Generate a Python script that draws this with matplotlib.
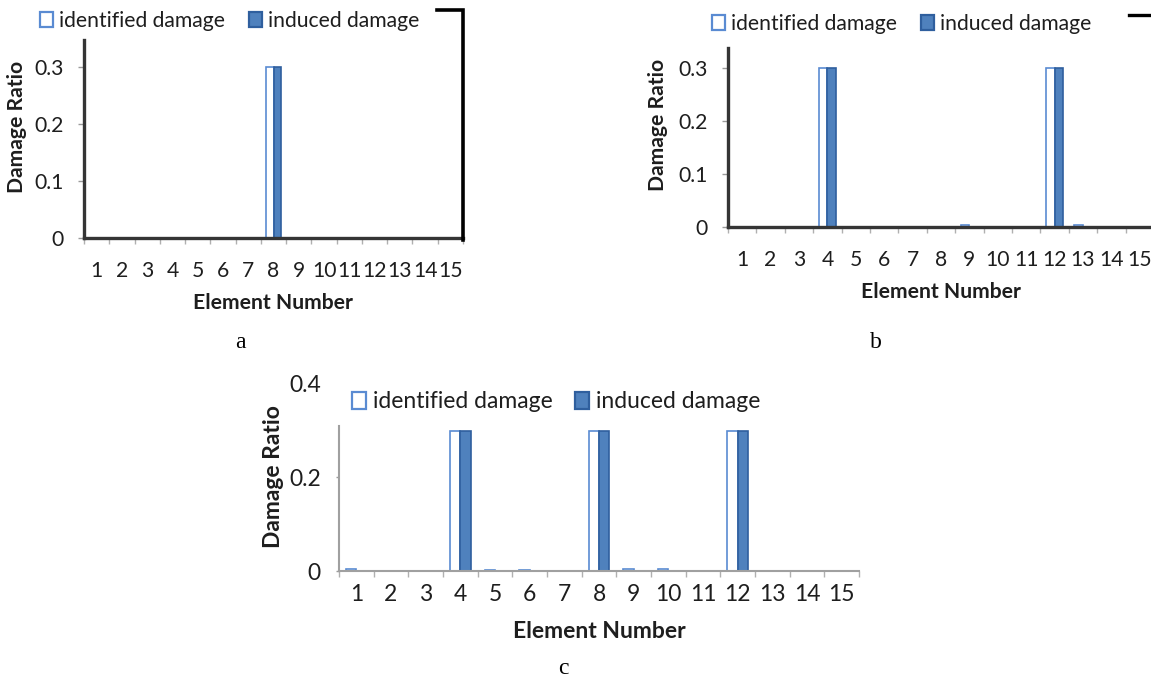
import matplotlib
matplotlib.use("Agg")
import matplotlib.pyplot as plt
from matplotlib.lines import Line2D
from matplotlib.patches import Patch
import numpy as np

plt.rcParams["font.family"] = ["Lato", "DejaVu Sans"]

W, H = 1151, 683
fig = plt.figure(figsize=(W / 100, H / 100), dpi=100)

# ---- data ----
elements = list(range(1, 16))
series_names = ["identified damage", "induced damage"]

identified_a = [0, 0, 0, 0, 0, 0, 0, 0.3, 0, 0, 0, 0, 0, 0, 0]
induced_a = [0, 0, 0, 0, 0, 0, 0, 0.3, 0, 0, 0, 0, 0, 0, 0]

identified_b = [0, 0, 0, 0.3, 0, 0, 0, 0, 0.004, 0, 0, 0.3, 0.004, 0, 0]
induced_b = [0, 0, 0, 0.3, 0, 0, 0, 0, 0, 0, 0, 0.3, 0, 0, 0]

identified_c = [0.004, 0.001, 0.001, 0.3, 0.003, 0.002, 0.001, 0.3,
                0.004, 0.004, 0, 0.3, 0.001, 0.001, 0]
induced_c = [0, 0, 0, 0.3, 0, 0, 0, 0.3, 0, 0, 0, 0.3, 0, 0, 0]

yticks_ab = [0, 0.1, 0.2, 0.3]
yticklabels_ab = ["0", "0.1", "0.2", "0.3"]
yticks_c = [0, 0.2, 0.4]
yticklabels_c = ["0", "0.2", "0.4"]

IDENT_EDGE = "#5a8bd2"
IND_FACE = "#4f81bd"
IND_EDGE = "#2f5f9e"
TXT = "#1e1e1e"
PT = 72 / 100  # points per pixel


def px_axes(x0, x1, y_top, y_zero):
    return fig.add_axes([x0 / W, 1 - y_zero / H, (x1 - x0) / W, (y_zero - y_top) / H])


def panel(ax, ident, induced, ymax, yt, ytl, spine_color, spine_lw, fs,
          xpad_px, ytick_len_px, ypad_px):
    x = np.array(elements, dtype=float)
    ax.bar(x - 0.15, ident, 0.3, facecolor="white", edgecolor=IDENT_EDGE,
           linewidth=1.2, zorder=2)
    ax.bar(x + 0.15, induced, 0.3, facecolor=IND_FACE, edgecolor=IND_EDGE,
           linewidth=1.2, zorder=2)
    ax.set_xlim(0.5, 15.5)
    ax.set_ylim(0, ymax)
    for s in ("top", "right"):
        ax.spines[s].set_visible(False)
    for s in ("left", "bottom"):
        ax.spines[s].set_color(spine_color)
        ax.spines[s].set_linewidth(spine_lw)
    ax.set_xticks(np.arange(0.5, 16, 1.0))
    ax.set_xticklabels([])
    ax.set_xticks(x, minor=True)
    ax.set_xticklabels([str(e) for e in elements], minor=True, fontsize=fs,
                       color=TXT)
    ax.tick_params(axis="x", which="major", length=6 * PT, width=1.0,
                   color="#b0b0b0", direction="out")
    ax.tick_params(axis="x", which="minor", length=0, pad=xpad_px * PT)
    ax.set_yticks(yt)
    ax.set_yticklabels(ytl, fontsize=fs, color=TXT)
    ax.tick_params(axis="y", length=ytick_len_px * PT, width=1.0,
                   color="#9a9a9a", pad=ypad_px * PT)
    ax.set_facecolor("none")


def legend(x_px, y_px, fs, colsp):
    handles = [Patch(facecolor="white", edgecolor=IDENT_EDGE, linewidth=1.6),
               Patch(facecolor=IND_FACE, edgecolor=IND_EDGE, linewidth=1.6)]
    fig.legend(handles, series_names, loc="center left",
               bbox_to_anchor=(x_px / W, 1 - y_px / H), ncol=2, frameon=False,
               fontsize=fs, handlelength=0.62, handleheight=0.7,
               handletextpad=0.3, columnspacing=colsp, borderpad=0,
               borderaxespad=0, labelcolor=TXT)


def ftext(x_px, y_px, s, **kw):
    fig.text(x_px / W, 1 - y_px / H, s, ha="center", va="center", **kw)


FS_AB = 15.2
FS_C = 16.5

# ---- panel a ----
ax_a = px_axes(84, 463, 40, 238)
panel(ax_a, identified_a, induced_a, 0.347, yticks_ab, yticklabels_ab,
      "#353535", 2.4, FS_AB, 23, 6, 14)
legend(40, 21, FS_AB, 1.1)
ftext(17, 127, "Damage Ratio", rotation=90, fontsize=FS_AB, fontweight="bold",
      color=TXT)
ftext(273, 303, "Element Number", fontsize=FS_AB, fontweight="bold", color=TXT)
ftext(240, 342, "a", fontsize=17, family="Liberation Serif")
fig.add_artist(Line2D([437 / W, 463 / W, 463 / W],
                      [1 - 10 / H, 1 - 10 / H, 1 - 240 / H],
                      transform=fig.transFigure, color="black", lw=2.6,
                      solid_joinstyle="miter"))

# ---- panel b ----
ax_b = px_axes(728, 1154, 48, 227)
panel(ax_b, identified_b, induced_b, 0.338, yticks_ab, yticklabels_ab,
      "#353535", 2.4, FS_AB, 23.5, 6, 14)
legend(712, 24, FS_AB, 1.1)
ftext(658, 125, "Damage Ratio", rotation=90, fontsize=FS_AB, fontweight="bold",
      color=TXT)
ftext(941, 292, "Element Number", fontsize=FS_AB, fontweight="bold", color=TXT)
ftext(876, 342, "b", fontsize=17, family="Liberation Serif")
fig.add_artist(Line2D([1129 / W, 1151 / W], [1 - 15 / H, 1 - 15 / H],
                      transform=fig.transFigure, color="black", lw=2.4))

# ---- panel c ----
ax_c = px_axes(339, 859, 383.7, 571)
panel(ax_c, identified_c, induced_c, 0.4, yticks_c, yticklabels_c,
      "#a0a0a0", 1.5, FS_C, 13, 3, 15)
ax_c.spines["left"].set_bounds(0, 0.31)
ax_c.yaxis.get_major_ticks()[2].tick1line.set_visible(False)
legend(352, 402, FS_C, 0.95)
ftext(273, 477, "Damage Ratio", rotation=90, fontsize=FS_C, fontweight="bold",
      color=TXT)
ftext(599, 632, "Element Number", fontsize=FS_C, fontweight="bold", color=TXT)
ftext(563, 668, "c", fontsize=17, family="Liberation Serif")

fig.savefig("out.png", dpi=100)
